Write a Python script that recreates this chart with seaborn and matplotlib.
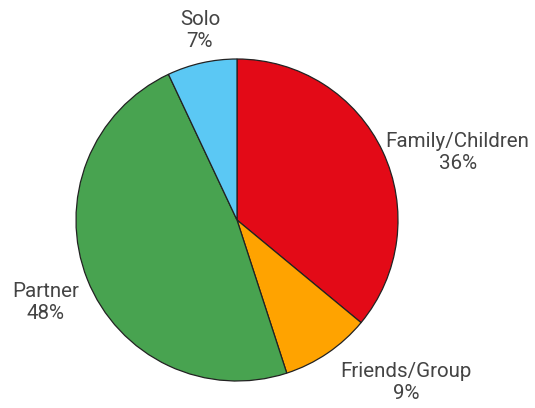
import matplotlib
matplotlib.use("Agg")
import matplotlib.pyplot as plt
import numpy as np
import seaborn as sns

# travel party shares (%)
categories = ['Family/Children', 'Friends/Group', 'Partner', 'Solo']
shares = [36, 9, 48, 7]
colors = ['#E30A17', '#FFA300', '#48A350', '#5BC8F4']

# label centres, in units of the pie radius
label_xy = [(1.37, 0.42), (1.05, -1.01), (-1.19, -0.51), (-0.23, 1.18)]

sns.set_theme(style='white')
plt.rcParams['font.family'] = ['Roboto', 'DejaVu Sans']

fig = plt.figure(figsize=(5.35, 4.08), dpi=100)
ax = fig.add_axes([76 / 535, (408 - 381) / 408, 322 / 535, 322 / 408])

ax.pie(shares, colors=colors, startangle=90, counterclock=False,
       wedgeprops=dict(edgecolor='#222222', linewidth=0.9))
ax.set_xlim(-1, 1)
ax.set_ylim(-1, 1)
ax.set_aspect('equal')
ax.axis('off')

for name, val, (x, y) in zip(categories, shares, label_xy):
    ax.text(x, y, f'{name}\n{val}%', ha='center', va='center',
            fontsize=14.8, color='#444444', linespacing=1.2,
            fontweight='normal', clip_on=False)

fig.savefig('out.png', dpi=100)
